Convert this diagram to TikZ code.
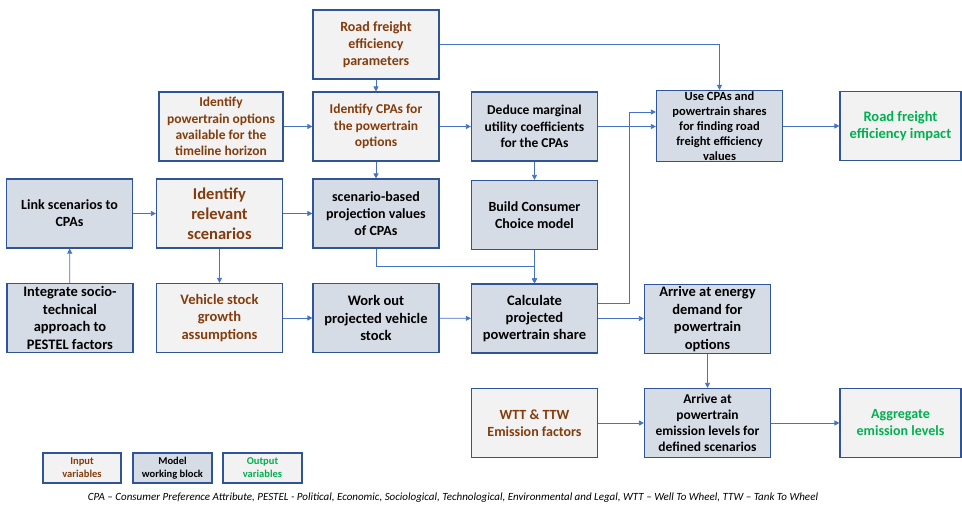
\documentclass[tikz,border=0pt]{standalone}
\usepackage{fontspec}
\setmainfont{Carlito}
\usetikzlibrary{arrows.meta}

\definecolor{inbrown}{HTML}{843C0C}
\definecolor{outgreen}{HTML}{00B050}
\definecolor{infill}{HTML}{F2F2F2}
\definecolor{modfill}{HTML}{D6DCE5}
\definecolor{edgeblue}{HTML}{2F5597}
\definecolor{linkblue}{HTML}{4472C4}

\tikzset{
  block/.style={draw=edgeblue, line width=1.2pt, minimum width=126pt, minimum height=69pt,
    align=center, inner sep=1pt, font=\bfseries\fontsize{14}{17}\selectfont},
  inbox/.style={block, fill=infill, text=inbrown},
  modelbox/.style={block, fill=modfill, text=black},
  outbox/.style={block, fill=infill, text=outgreen},
  keybox/.style={minimum width=79pt, minimum height=30pt,
    font=\bfseries\fontsize{10.5}{13}\selectfont},
  flow/.style={draw=linkblue, line width=0.8pt, -{Triangle[length=5pt,width=5pt]}}
}

\begin{document}
\begin{tikzpicture}[x=1pt, y=-1pt]
    \useasboundingbox (0,0) rectangle (962,506);

    \node[inbox] (par) at (376, 44.5) {Road freight\\efficiency\\parameters};
    \node[inbox, minimum width=124pt, font=\bfseries\fontsize{13.5}{16.2}\selectfont] (opt) at (221, 126.5) {Identify\\powertrain options\\available for the\\timeline horizon};
    \node[inbox, font=\bfseries\fontsize{13.5}{16.3}\selectfont] (cpa) at (376, 126.5) {Identify CPAs for\\the powertrain\\options};
    \node[modelbox, font=\bfseries\fontsize{13.5}{16.3}\selectfont] (coef) at (534.5, 126.5) {Deduce marginal\\utility coefficients\\for the CPAs};
    \node[modelbox, font=\bfseries\fontsize{12.5}{15}\selectfont] (use) at (719.5, 126) {Use CPAs and\\powertrain shares\\for finding road\\freight efficiency\\values};
    \node[outbox, minimum width=121pt, font=\bfseries\fontsize{14.5}{17.3}\selectfont] (impact) at (900.5, 126) {Road freight\\efficiency impact};

    \node[modelbox] (link) at (69.5, 213.5) {Link scenarios to\\CPAs};
    \node[inbox, font=\bfseries\fontsize{16.5}{20}\selectfont] (rel) at (219.5, 213.5) {Identify\\relevant\\scenarios};
    \node[modelbox] (proj) at (376, 213.5) {scenario-based\\projection values\\of CPAs};
    \node[modelbox] (ccm) at (534.5, 215) {Build Consumer\\Choice model};

    \node[modelbox, font=\bfseries\fontsize{14.5}{17.4}\selectfont] (pestel) at (70, 318) {Integrate socio-\\technical\\approach to\\PESTEL factors};
    \node[inbox, font=\bfseries\fontsize{14.5}{17.4}\selectfont] (stock) at (219.5, 318) {Vehicle stock\\growth\\assumptions};
    \node[modelbox, font=\bfseries\fontsize{14.5}{17.4}\selectfont] (work) at (376, 318) {Work out\\projected vehicle\\stock};
    \node[modelbox, font=\bfseries\fontsize{14.5}{17.4}\selectfont] (share) at (534.5, 318.5) {Calculate\\projected\\powertrain share};
    \node[modelbox, font=\bfseries\fontsize{14.5}{17.4}\selectfont] (energy) at (707.5, 319) {Arrive at energy\\demand for\\powertrain\\options};

    \node[inbox] (wtt) at (534.5, 423) {WTT \& TTW\\Emission factors};
    \node[modelbox, font=\bfseries\fontsize{13.5}{16.2}\selectfont] (emis) at (707.5, 423) {Arrive at\\powertrain\\emission levels for\\defined scenarios};
    \node[outbox, minimum width=121pt] (agg) at (900.5, 423) {Aggregate\\emission levels};

    \node[inbox, keybox, minimum width=78pt] (keyin) at (82, 468) {Input\\variables};
    \node[modelbox, keybox] (keymod) at (172.5, 468) {Model\\working block};
    \node[outbox, keybox] (keyout) at (262.5, 468) {Output\\variables};

    \node[font=\itshape\fontsize{11}{13}\selectfont] (note) at (453, 497.5) {CPA -- Consumer Preference Attribute, PESTEL - Political, Economic, Sociological, Technological, Environmental and Legal, WTT -- Well To Wheel, TTW -- Tank To Wheel};

    \draw[flow] (par) -- (cpa);
    \draw[flow] (par.east) -| (use.north);
    \draw[flow] (opt) -- (cpa);
    \draw[flow] (cpa) -- (coef);
    \draw[flow] (cpa) -- (proj);
    \draw[flow] (coef.east) -- (use.west |- coef.east);
    \draw[flow] (coef) -- (ccm);
    \draw[flow] (use.east) -- (impact.west |- use.east);
    \draw[flow] (pestel) -- (link);
    \draw[flow] (link) -- (rel);
    \draw[flow] (rel) -- (proj);
    \draw[flow] (rel) -- (stock);
    \draw[flow] (proj.south) -- ++(0,18) -| (share.north);
    \draw[flow] (ccm) -- (share);
    \draw[flow] (stock) -- (work);
    \draw[flow] (work) -- (share);
    \draw[flow] ([yshift=15pt]share.east) -- ++(31,0) |- ([yshift=14pt]use.west);
    \draw[flow] (share.east) -- (energy.west |- share.east);
    \draw[flow] (energy) -- (emis);
    \draw[flow] (wtt) -- (emis);
    \draw[flow] (emis) -- (agg);
\end{tikzpicture}
\end{document}
